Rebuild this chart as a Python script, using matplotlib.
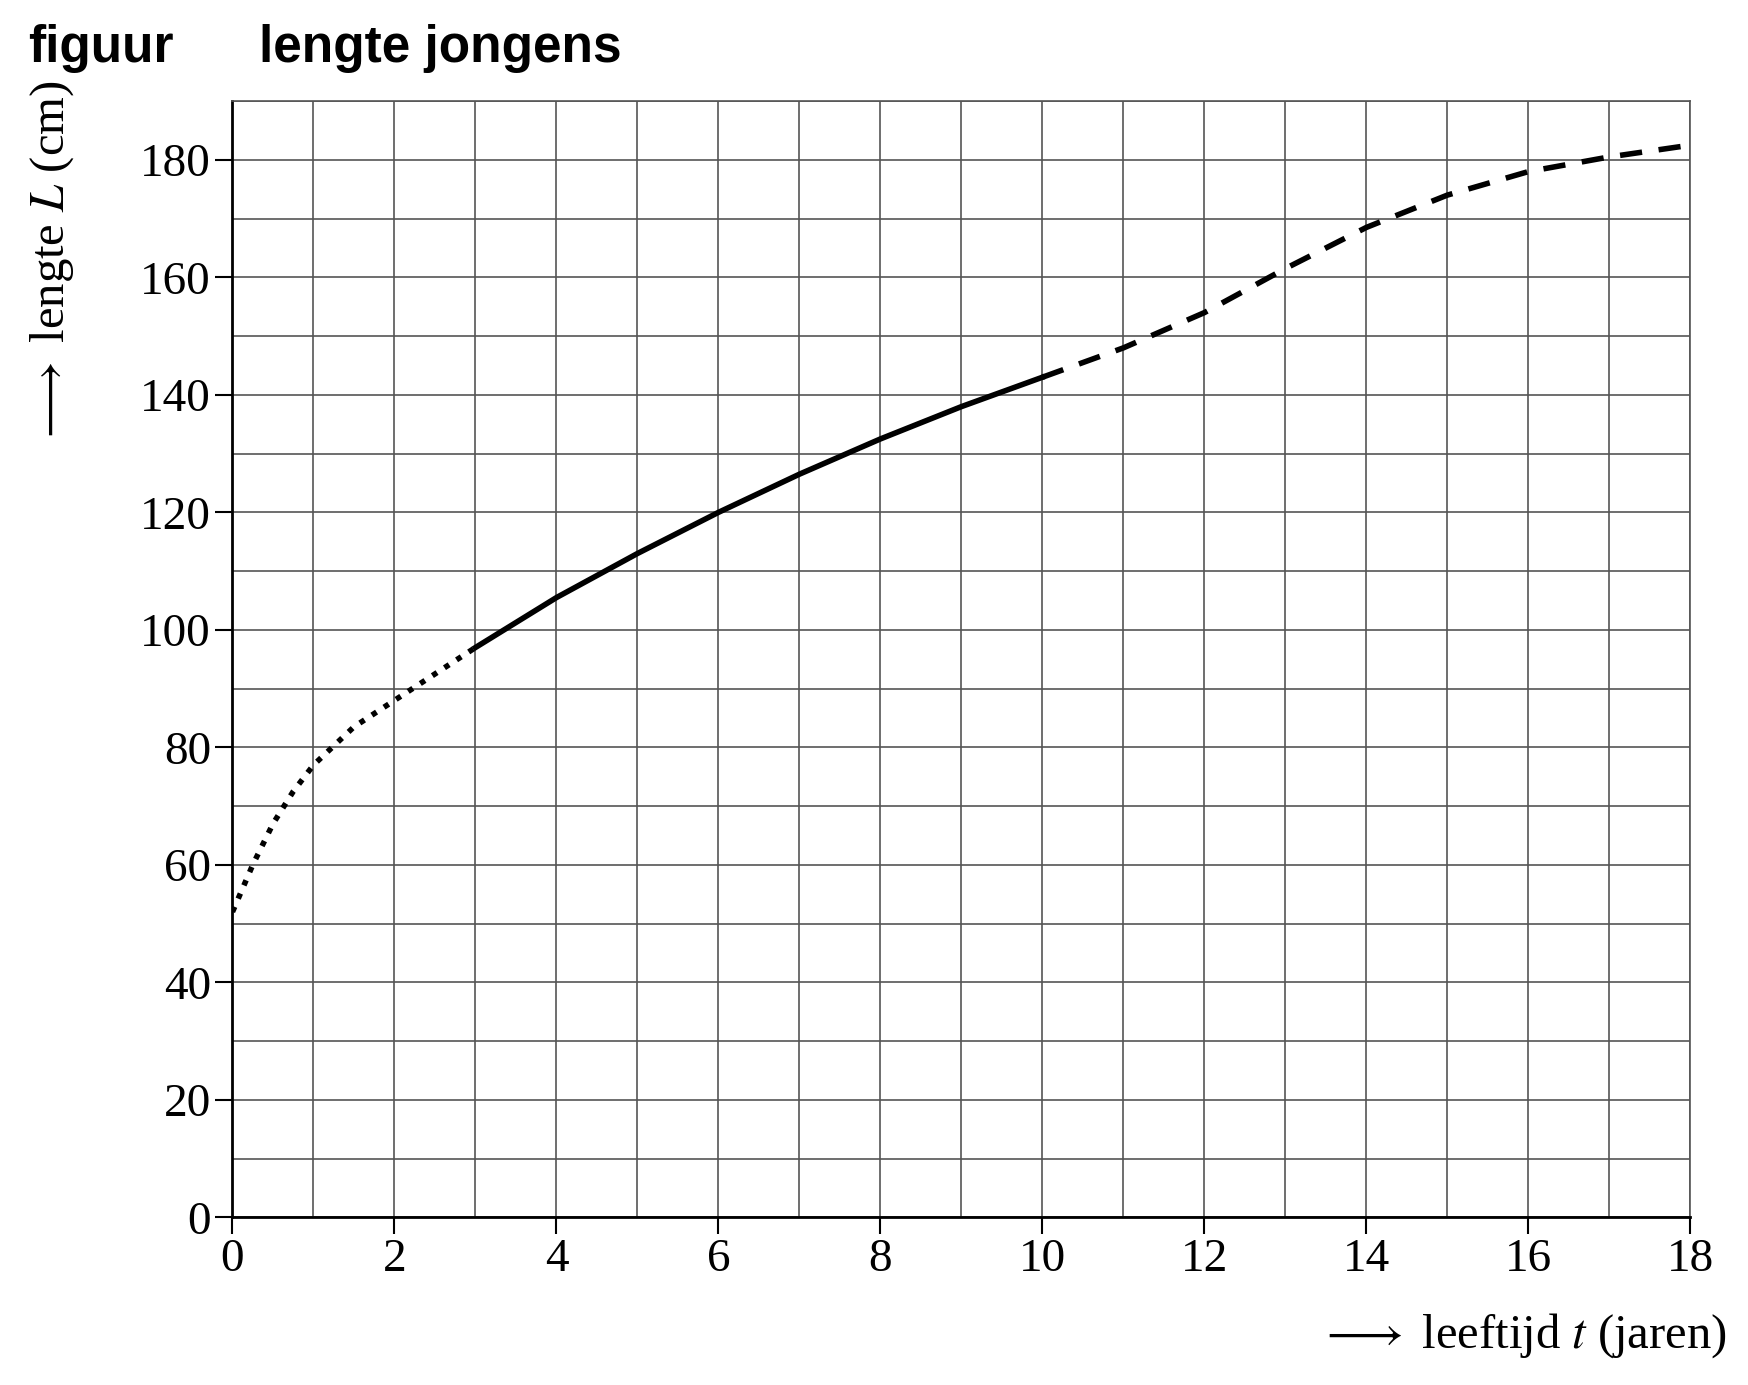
import matplotlib.pyplot as plt
import numpy as np

# values
t_dotted = [0, 0.25, 0.5, 0.75, 1, 1.5, 2, 2.5, 3]
L_dotted = [52, 60, 67, 72.5, 77, 83.5, 88, 92.5, 97]
t_solid = [3, 4, 5, 6, 7, 8, 9, 10]
L_solid = [97, 105.5, 113, 120, 126.5, 132.5, 138, 143]
t_dashed = [10, 11, 12, 13, 14, 15, 16, 17, 18]
L_dashed = [143, 148, 154, 161.5, 168.5, 174, 178, 180.5, 182.5]
x_ticks = list(range(0, 19, 2))
y_ticks = list(range(0, 181, 20))

plt.rcParams['font.family'] = ['Liberation Serif', 'DejaVu Serif']
plt.rcParams['mathtext.fontset'] = 'stix'
fig = plt.figure(figsize=(17.48, 13.85), dpi=100)
ax = fig.add_axes([0.133, 0.121, 0.834, 0.806])

ax.plot(t_dotted, L_dotted, color='black', lw=4, linestyle=(0, (1, 1.6)))
ax.plot(t_solid, L_solid, color='black', lw=4)
ax.plot(t_dashed, L_dashed, color='black', lw=4, linestyle=(0, (4, 3)))

ax.set_xlim(0, 18)
ax.set_ylim(0, 190)
ax.set_xticks(x_ticks)
ax.set_yticks(y_ticks)
ax.set_xticks(range(0, 19), minor=True)
ax.set_yticks(range(0, 191, 10), minor=True)
ax.grid(True, which='both', color='#555555', lw=1.2)
ax.tick_params(which='minor', length=0)
ax.tick_params(which='major', labelsize=34, length=12, width=1.5, direction='out')
for s in ['top', 'right']:
    ax.spines[s].set_color('#555555')
    ax.spines[s].set_linewidth(1.2)
for s in ['left', 'bottom']:
    ax.spines[s].set_linewidth(2)

fig.text(0.016, 0.965, 'figuur', fontsize=37, fontweight='bold',
         family='Liberation Sans', va='center')
fig.text(0.148, 0.965, 'lengte jongens', fontsize=37, fontweight='bold',
         family='Liberation Sans', va='center')
fig.text(0.988, 0.036, r'$\longrightarrow$ leeftijd $t$ (jaren)', fontsize=35,
         ha='right', va='center')
fig.text(0.030, 0.81, r'$\longrightarrow$ lengte $L$ (cm)', fontsize=35,
         rotation=90, ha='center', va='center')

fig.savefig('out.png', dpi=100)
